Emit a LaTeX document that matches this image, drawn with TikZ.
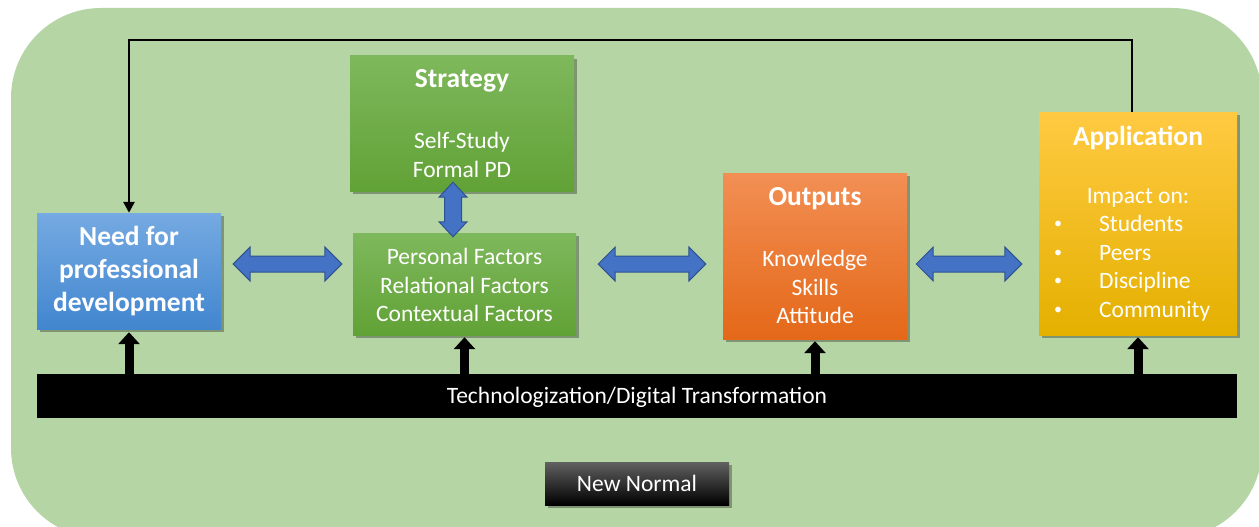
\documentclass[tikz,border=0pt]{standalone}
\usepackage{fontspec}
\setmainfont{Carlito}
\usetikzlibrary{shadows,calc,arrows.meta}
\definecolor{bg}{RGB}{181,213,165}
\definecolor{needT}{RGB}{117,170,226}
\definecolor{needB}{RGB}{66,134,207}
\definecolor{grnT}{RGB}{126,184,92}
\definecolor{grnB}{RGB}{97,162,54}
\definecolor{orgT}{RGB}{242,143,84}
\definecolor{orgB}{RGB}{228,104,24}
\definecolor{yelT}{RGB}{255,202,66}
\definecolor{yelM}{RGB}{255,194,12}
\definecolor{yelB}{RGB}{228,176,0}
\definecolor{arrfill}{RGB}{68,114,196}
\definecolor{arrline}{RGB}{47,82,143}
\tikzset{
  boxshape/.style={rectangle, inner sep=0pt, draw=none,
    drop shadow={shadow xshift=3pt, shadow yshift=-3pt, opacity=0.3, fill=black}},
  bodytxt/.style={text=white, inner sep=0pt, align=center, font=\fontsize{23.5}{28.6}\selectfont},
  titletxt/.style={text=white, inner sep=0pt, align=center, font=\bfseries\fontsize{27.5}{33}\selectfont},
  bullettxt/.style={text=white, inner sep=0pt, font=\fontsize{16}{16}\selectfont},
  barrow/.style={fill=arrfill, draw=arrline, line width=1pt},
  uparrow/.style={draw=black, line width=9pt, -{Triangle[width=21pt,length=12pt]}},
  fbarrow/.style={draw=black, line width=2.5pt, -{Triangle[width=11pt,length=11pt]}},
}
\newcommand\hdarrow[2]{\path[barrow] let \p1=(#1), \p2=(#2) in
  (\x1,\y1) -- (\x1+17pt,\y1+17pt) -- (\x1+17pt,\y1+8pt) -- (\x2-17pt,\y1+8pt) -- (\x2-17pt,\y1+17pt)
  -- (\x2,\y1) -- (\x2-17pt,\y1-17pt) -- (\x2-17pt,\y1-8pt) -- (\x1+17pt,\y1-8pt) -- (\x1+17pt,\y1-17pt) -- cycle;}
\newcommand\vdarrow[2]{\path[barrow] let \p1=(#1), \p2=(#2) in
  (\x1,\y1) -- (\x1+14pt,\y1-15pt) -- (\x1+8.5pt,\y1-15pt) -- (\x1+8.5pt,\y2+15pt) -- (\x1+14pt,\y2+15pt)
  -- (\x1,\y2) -- (\x1-14pt,\y2+15pt) -- (\x1-8.5pt,\y2+15pt) -- (\x1-8.5pt,\y1-15pt) -- (\x1-14pt,\y1-15pt) -- cycle;}
\begin{document}
\begin{tikzpicture}[x=1pt,y=-1pt]
\fill[white] (0,0) rectangle (1259,527);
\useasboundingbox (0,0) rectangle (1259,527);
\begin{scope}
  \clip (0,0) rectangle (1259,527);
  \fill[bg, rounded corners=90pt] (11,8) rectangle (1262,538);
\end{scope}

% boxes
\node[boxshape, top color=needT, bottom color=needB, minimum width=184pt, minimum height=116pt] (need) at (129,271) {};
\node[boxshape, top color=grnT, bottom color=grnB, minimum width=224pt, minimum height=135pt] (strat) at (462,123.5) {};
\node[boxshape, top color=grnT, bottom color=grnB, minimum width=223pt, minimum height=102pt] (fact) at (464.5,284) {};
\node[boxshape, top color=orgT, bottom color=orgB, minimum width=184pt, minimum height=166pt] (out) at (815,256) {};
\node[boxshape, top color=yelT, middle color=yelM, bottom color=yelB, minimum width=198pt, minimum height=223pt] (app) at (1138,223.5) {};
\node[rectangle, fill=black, inner sep=0pt, minimum width=1200pt, minimum height=44pt] (bar) at (637,396) {};
\node[boxshape, top color=black!62, middle color=black, bottom color=black, minimum width=184pt, minimum height=43pt] (nn) at (637,483.5) {};

% texts
\node[titletxt] (needT) at (need.center) {Need for\\professional\\development};
\node[titletxt] (stratT) at (462,81) {Strategy};
\node[bodytxt] (stratB) at (462,155) {Self-Study\\Formal PD};
\node[bodytxt] (factB) at (464.5,285) {Personal Factors\\Relational Factors\\Contextual Factors};
\node[titletxt] (outT) at (815,199) {Outputs};
\node[bodytxt] (outB) at (815,287) {Knowledge\\Skills\\Attitude};
\node[titletxt] (appT) at (1138,138) {Application};
\node[bodytxt] (appI) at (1138,198) {Impact on:};
\foreach \t/\yy [count=\i] in {Students/226, Peers/255, Discipline/283, Community/312}{
  \node[bullettxt] (bul\i) at (1058,\yy-1) {\textbullet};
  \node[bodytxt, anchor=west] (item\i) at (1099,\yy) {\strut\t};
}
\node[bodytxt] (barT) at ($(bar.center)+(0,1.5)$) {Technologization/Digital Transformation};
\node[bodytxt] (nnT) at (nn.center) {New Normal};

% block arrows
\hdarrow{$(need.east |- 0,264)+(12,0)$}{$(fact.west |- 0,264)+(-11,0)$}
\hdarrow{$(fact.east |- 0,264)+(22,0)$}{$(out.west |- 0,264)+(-17,0)$}
\hdarrow{$(out.east |- 0,264)+(9,0)$}{$(app.west |- 0,264)+(-17,0)$}
\vdarrow{$(strat.south)+(-9,-9)$}{$(fact.north)+(-11.5,4)$}

% upward arrows from the bar
\draw[uparrow] (need.south |- bar.north) -- ($(need.south)+(0,3)$);
\draw[uparrow] (fact.south |- bar.north) -- ($(fact.south)+(0,2)$);
\draw[uparrow] (out.south |- bar.north) -- ($(out.south)+(0,2)$);
\draw[uparrow] (app.south |- bar.north) -- ($(app.south)+(0,2)$);

% feedback loop
\coordinate (fbs) at ($(app.north)+(-6,0)$);
\draw[fbarrow] (fbs) -- (fbs |- 0,40) -| (need.north);
\end{tikzpicture}
\end{document}
